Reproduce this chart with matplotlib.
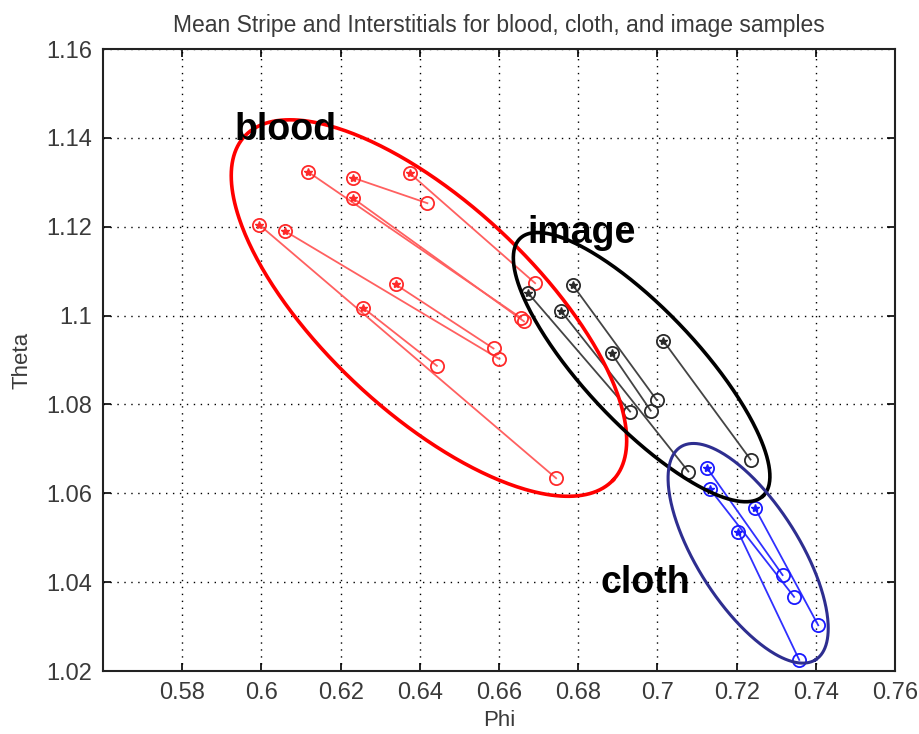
import matplotlib
matplotlib.use("Agg")
import matplotlib.pyplot as plt
import numpy as np

# stripe (start) and interstitial (end) means per sample
blood_start_phi = [0.6117, 0.6232, 0.6375, 0.6230, 0.5995, 0.6060, 0.6339, 0.6256]
blood_start_theta = [1.1324, 1.1310, 1.1320, 1.1265, 1.1204, 1.1190, 1.1070, 1.1018]
blood_end_phi = [0.6655, 0.6419, 0.6691, 0.6663, 0.6744, 0.6601, 0.6586, 0.6443]
blood_end_theta = [1.0995, 1.1253, 1.1073, 1.0987, 1.0634, 1.0902, 1.0926, 1.0887]

image_start_phi = [0.6674, 0.6786, 0.6756, 0.6884, 0.7015]
image_start_theta = [1.1050, 1.1069, 1.1011, 1.0915, 1.0943]
image_end_phi = [0.6931, 0.6998, 0.7078, 0.6983, 0.7235]
image_end_theta = [1.0784, 1.0810, 1.0649, 1.0786, 1.0676]

cloth_start_phi = [0.7126, 0.7133, 0.7246, 0.7204]
cloth_start_theta = [1.0656, 1.0609, 1.0567, 1.0513]
cloth_end_phi = [0.7316, 0.7345, 0.7406, 0.7358]
cloth_end_theta = [1.0416, 1.0367, 1.0303, 1.0225]

# group ellipses: centre (phi, theta), semi-axes in pixels, tilt in degrees
ELLIPSES = {
    "blood": ((0.6423, 1.1017), 252, 105, 43.0, "#ff0000", 2.6),
    "image": ((0.6960, 1.0884), 177, 57, 46.7, "#000000", 2.6),
    "cloth": ((0.7229, 1.0465), 126, 51, 57.6, "#2e2e90", 2.2),
}
LABELS = {"blood": (0.5933, 1.1395), "image": (0.6671, 1.1164), "cloth": (0.6855, 1.0375)}

XLIM = (0.56, 0.76)
YLIM = (1.02, 1.16)
TXT = "#3a3a3a"

plt.rcParams["font.family"] = ["Liberation Sans", "DejaVu Sans"]

fig = plt.figure(figsize=(9.2, 7.34), dpi=100)
ax = fig.add_axes([0.112, 0.0858, 0.8609, 0.8474])
ax.set_xlim(*XLIM)
ax.set_ylim(*YLIM)


def tracks(sx, sy, ex, ey, color, lcolor):
    for x0, y0, x1, y1 in zip(sx, sy, ex, ey):
        ax.plot([x0, x1], [y0, y1], color=lcolor, lw=1.3, zorder=2)
    ax.plot(sx, sy, "o", ms=9.5, mfc="none", mec=color, mew=1.3, zorder=3)
    ax.plot(sx, sy, "*", ms=6, color=color, zorder=3)
    ax.plot(ex, ey, "o", ms=9.5, mfc="none", mec=color, mew=1.3, zorder=3)


tracks(blood_start_phi, blood_start_theta, blood_end_phi, blood_end_theta,
       "#ff2a2a", "#ff6060")
tracks(image_start_phi, image_start_theta, image_end_phi, image_end_theta,
       "#2a2a2a", "#444444")
tracks(cloth_start_phi, cloth_start_theta, cloth_end_phi, cloth_end_theta,
       "#1a1aff", "#3030ff")

ppx = ax.bbox.width / (XLIM[1] - XLIM[0])
ppy = ax.bbox.height / (YLIM[1] - YLIM[0])
t = np.linspace(0, 2 * np.pi, 400)
for name, (c, a, b, ang, col, lw) in ELLIPSES.items():
    th = np.radians(ang)
    dx = a * np.cos(t) * np.cos(th) - b * np.sin(t) * np.sin(th)
    dy = a * np.cos(t) * np.sin(th) + b * np.sin(t) * np.cos(th)
    ax.plot(c[0] + dx / ppx, c[1] - dy / ppy, color=col, lw=lw, zorder=4)
    ax.text(LABELS[name][0], LABELS[name][1], name, fontsize=27, fontweight="bold",
            color="black", ha="left", va="baseline", zorder=5)

ax.set_xticks(np.round(np.arange(0.58, 0.761, 0.02), 2))
ax.set_xticklabels(["0.58", "0.6", "0.62", "0.64", "0.66", "0.68", "0.7", "0.72", "0.74", "0.76"])
ax.set_yticks(np.round(np.arange(1.02, 1.161, 0.02), 2))
ax.set_yticklabels(["1.02", "1.04", "1.06", "1.08", "1.1", "1.12", "1.14", "1.16"])
ax.grid(True, ls=(0, (1, 4)), color="black", lw=1.0)
ax.tick_params(direction="in", length=6, width=1.2, top=True, right=True,
               labelsize=17, labelcolor=TXT, pad=8)
for s in ax.spines.values():
    s.set_linewidth(1.5)
    s.set_color("#222222")

ax.set_xlabel("Phi", fontsize=16, color=TXT, labelpad=4)
ax.set_ylabel("Theta", fontsize=16, color=TXT, labelpad=10)
ax.set_title("Mean Stripe and Interstitials for blood, cloth, and image samples",
             fontsize=16.5, color=TXT, pad=12)

fig.savefig("out.png", dpi=100)
